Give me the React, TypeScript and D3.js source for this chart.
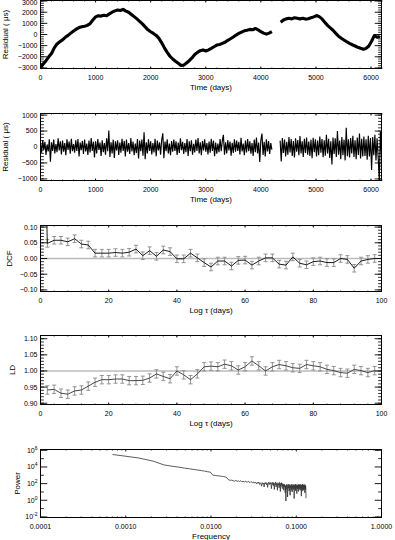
import React from 'react';
import * as d3 from 'd3';

const W = 395;
const H = 540;
const PL = 40.5;
const PR = 381.5;
const FONT = 'Liberation Sans, Arial, Helvetica, sans-serif';

// ---------- Panel 1: timing residuals (µs), sampled every 50 days ----------
const trendStep = 50;
const trendStart1 = 0;
const trendSeg1 = [
  -2950, -2650, -2350, -2000, -1700, -1200, -850, -650, -480, -250,
  -80, 120, 320, 480, 620, 700, 740, 820, 980, 1300,
  1580, 1680, 1650, 1720, 1680, 1850, 2000, 2120, 2200, 2150,
  2250, 2100, 2000, 1800, 1600, 1400, 1180, 950, 680, 420,
  250, 100, -80, -350, -750, -1200, -1600, -1950, -2200, -2400,
  -2580, -2780, -2750, -2550, -2350, -2100, -1800, -1600, -1450, -1380,
  -1480, -1380, -1250, -1100, -950, -900, -800, -700, -520, -380,
  -220, -50, 100, 220, 330, 380, 460, 420, 540, 420,
  250, 120, 30, 120, 260,
];
const trendStart2 = 4360;
const trendSeg2 = [
  1100, 1300, 1400, 1450, 1400, 1500, 1450, 1400, 1450, 1380,
  1420, 1500, 1580, 1700, 1600, 1400, 1100, 820, 600, 380,
  100, -150, -330, -500, -650, -800, -920, -1030, -1150, -1240,
  -1320, -1250, -1030, -600, -100, -250, -180,
];

// ---------- Panel 2: whitened residuals (µs), sampled every 20 days ----------
const resStep = 20;
const resStart1 = 0;
const resSeg1 = [
  120, -180, 210, -90, 160, -250, 80, -140, 240, -460,
  150, -120, 230, -200, 90, -160, 270, -110, 180, -230,
  200, -150, 120, -260, 240, -90, 170, -210, 260, -130,
  90, -180, 210, -120, 250, -300, 140, -100, 190, -220,
  230, -140, 110, -250, 200, -170, 280, -120, 160, -330,
  180, -200, 250, -90, 140, -280, 210, -160, 120, -240,
  270, -130, 520, -310, 150, -200, 230, -340, 180, -110,
  210, -250, 140, -180, 260, -120, 190, -300, 230, -150,
  120, -220, 280, -140, 170, -260, 110, -190, 250, -360,
  200, -130, 230, -270, 460, -380, 150, -200, 240, -120,
  180, -230, 120, -170, 260, -290, 200, -110, 150, -240,
  220, 430, -350, 170, -130, 240, -200, 110, -260, 190,
  -150, 230, -120, 180, -250, 140, -190, 270, -100, 160,
  -220, 120, -160, 250, -280, 180, -130, 210, -240, 100,
  -170, 230, -120, 280, -200, 150, -260, 190, -110, 240,
  -150, 120, -230, 170, -180, 260, -120, 200, -290, 140,
  -210, 110, -160, 250, -130, 190, 380, -240, 150, -200,
  220, -110, 170, -270, 130, -190, 240, -150, 200, -120,
  160, -230, 290, -140, 110, -260, 200, -170, 250, -130,
  180, -210, 120, -280, 230, -160, 300, -200, 140, -470,
  210, 420, -250, 160, -300, 240, -140, 190, -220, 120,
  -80,
];
const resStart2 = 4350;
const resSeg2 = [
  200, -450, 280, -190, 230, -300, 160, -240, 310, -170,
  250, -280, 190, -330, 270, -150, 220, -260, 340, -200,
  180, -310, 260, -190, 300, -240, 170, -280, 230, -350,
  290, -160, 240, -300, 200, -260, 330, -180, 250, -320,
  210, -270, 380, -200, 260, -340, 180, -550, 300, -220,
  270, -310, 500, -240, 200, -380, 310, -260, 230, -420,
  600, -290, 240, -330, 280, -200, 350, -310, 210, -380,
  300, -250, 420, -360, 260, -300, 330, -280, 240, -400,
  350, -300, 280, -720, 310, -260, 380, -420, 270, -340,
  -1050, 480, -280,
];

// ---------- Panel 3: DCF ----------
const dcfLag = [
  0, 2, 4, 6, 8, 10, 12, 14, 16, 18, 20, 22, 24, 26, 28, 30, 32, 34, 36, 38, 40, 42, 44, 46, 48,
  50, 52, 54, 56, 58, 60, 62, 64, 66, 68, 70, 72, 74, 76, 78, 80, 82, 84, 86, 88, 90, 92, 94, 96, 98,
];
const dcfVal = [
  1.0,
  0.048, 0.058, 0.058, 0.053, 0.063, 0.046, 0.043, 0.017, 0.017, 0.017,
  0.019, 0.017, 0.020, 0.030, 0.009, 0.025, 0.007, 0.027, 0.022, -0.001,
  -0.001, 0.017, 0.002, -0.013, -0.027, -0.008, -0.008, -0.024, -0.006, -0.005,
  -0.021, -0.008, 0.002, 0.002, -0.018, -0.021, 0.005, -0.015, -0.020, -0.010,
  -0.008, -0.013, -0.013, 0.0, -0.003, -0.031, -0.008, -0.003, 0.0,
];
const dcfErr = 0.012;

// ---------- Panel 4: LD ----------
const ldLag = [
  2, 4, 6, 8, 10, 12, 14, 16, 18, 20, 22, 24, 26, 28, 30, 32, 34, 36, 38, 40, 42, 44, 46, 48,
  50, 52, 54, 56, 58, 60, 62, 64, 66, 68, 70, 72, 74, 76, 78, 80, 82, 84, 86, 88, 90, 92, 94, 96, 98,
];
const ldVal = [
  0.941, 0.943, 0.931, 0.928, 0.938, 0.941, 0.953, 0.965, 0.973, 0.973,
  0.975, 0.975, 0.970, 0.970, 0.971, 0.978, 0.991, 0.983, 0.976, 1.000,
  0.988, 0.973, 0.991, 1.013, 1.015, 1.013, 1.021, 1.016, 1.003, 1.013,
  1.031, 1.016, 1.000, 1.013, 1.020, 1.016, 1.010, 1.008, 1.020, 1.016,
  1.013, 1.005, 1.001, 0.995, 0.993, 1.005, 1.001, 0.995, 1.001,
];
const ldErr = 0.013;

// ---------- Panel 5: power spectrum (log10 power at k * freqStep) ----------
const freqStep = 0.0007;
const logPower = [
  5.50, 5.09, 4.70, 4.25, 4.09, 3.98, 3.86, 3.78, 3.70, 3.63, 3.57, 3.50, 3.43, 3.38,
  3.02, 2.98, 2.95, 2.92, 2.88, 2.85, 2.80, 2.70, 2.45, 2.40, 2.42, 2.35, 2.30, 2.38, 2.28, 2.33,
  2.25, 2.36, 2.22, 2.30, 2.18, 2.28, 2.24, 2.15, 2.30, 2.20, 2.12, 2.25, 2.18, 2.10, 2.22, 2.05, 2.17, 2.12, 1.95, 2.15,
  2.05, 2.18, 1.90, 2.10, 2.00, 1.70, 2.12, 1.95, 2.05, 1.60, 2.10, 1.98, 2.15, 1.85, 2.05, 1.55, 2.08, 2.20, 1.90, 2.10,
  1.95, 2.15, 1.40, 2.05, 1.90, 2.18, 1.75, 2.10, 1.30, 2.00, 1.85, 2.20, 1.60, 2.05, 1.95, 1.20, 2.10, 1.80, 2.00, 1.50,
  2.15, 1.90, 1.05, 2.05, 1.70, 2.12, 1.85, 1.40, 2.00, 1.75,
  1.90, 1.20, 1.95, 1.60, 1.85, 0.90, 1.75, -0.10, 1.65, 1.90, 1.30, 1.80, 0.40, 1.70, 1.95,
  1.45, 1.80, 1.10, 1.70, 1.90, 0.60, 1.75, 1.50, 1.85, 1.20, 1.65, 1.95, 1.00, 1.70, 1.55,
  1.85, 1.30, 1.75, 1.90, 0.20, 1.60, 1.80, 1.40, 1.95, 1.15, 1.70, 1.85, 1.50, 1.75, 0.80,
  1.90, 1.60, 1.35, 1.80, 1.70, 1.05, 1.85, 1.55, 1.95, 1.30, 1.75, 1.60, 1.85, 1.20, 1.70,
  1.90, 1.45, 1.80, 0.50, 1.65, 1.85, 1.35, 1.75, 1.95, 1.10, 1.70, 1.60, 1.85, 1.25, 1.80,
  1.55, 1.90, 1.40, 1.75, 0.90, 1.65, 1.85, 1.30, 1.70, 1.50, 0.24,
];

// ---------- tick definitions ----------
const timeMajor = [0, 1000, 2000, 3000, 4000, 5000, 6000];
const lagMajor = [0, 20, 40, 60, 80, 100];
const freqMajor = [0.0001, 0.001, 0.01, 0.1, 1];
const res1Major = [-3000, -2000, -1000, 0, 1000, 2000, 3000];
const res2Major = [-1000, -500, 0, 500, 1000];
const dcfMajor = [-0.1, -0.05, 0, 0.05, 0.1];
const ldMajor = [0.9, 0.95, 1.0, 1.05, 1.1];
const powMajor = [-2, 0, 2, 4, 6];

type AxProps = {
  id: string;
  top: number;
  bottom: number;
  x: any;
  y: any;
  xMajor: number[];
  xMinor: number[];
  yMajor: number[];
  yMinor: number[];
  xFmt: (v: number) => string;
  yFmt?: (v: number) => string;
  yPow?: boolean;
  xTitle: React.ReactNode;
  yTitle: string;
  yTitleX: number;
  children?: React.ReactNode;
};

function Axes(p: AxProps) {
  const yMajLen = 6.8;
  const yMinLen = 3.4;
  const xMajLen = 2;
  const xMinLen = 1;
  const mid = (p.top + p.bottom) / 2;
  return (
    <g>
      <defs>
        <clipPath id={p.id}>
          <rect x={PL} y={p.top} width={PR - PL} height={p.bottom - p.top} />
        </clipPath>
      </defs>
      <g clipPath={`url(#${p.id})`}>{p.children}</g>
      <rect x={PL} y={p.top} width={PR - PL} height={p.bottom - p.top} fill="none" stroke="#000" strokeWidth={1} />
      {p.yMinor.map((v, i) => {
        const yy = p.y(v);
        return (
          <g key={'ym' + i} stroke="#000" strokeWidth={0.8}>
            <line x1={PL} x2={PL + yMinLen} y1={yy} y2={yy} />
            <line x1={PR} x2={PR - yMinLen} y1={yy} y2={yy} />
          </g>
        );
      })}
      {p.yMajor.map((v, i) => {
        const yy = p.y(v);
        return (
          <g key={'yM' + i}>
            <line x1={PL} x2={PL + yMajLen} y1={yy} y2={yy} stroke="#000" strokeWidth={0.9} />
            <line x1={PR} x2={PR - yMajLen} y1={yy} y2={yy} stroke="#000" strokeWidth={0.9} />
            <text x={37.5} y={Math.max(yy, 2.6)} dy="0.35em" textAnchor="end" fontSize={7} fontFamily={FONT}>
              {p.yPow ? (
                <>
                  <tspan>10</tspan>
                  <tspan dy={-3} fontSize={5}>{v}</tspan>
                </>
              ) : (
                p.yFmt!(v)
              )}
            </text>
          </g>
        );
      })}
      {p.xMinor.map((v, i) => {
        const xx = p.x(v);
        return (
          <g key={'xm' + i} stroke="#000" strokeWidth={0.8}>
            <line x1={xx} x2={xx} y1={p.bottom} y2={p.bottom - xMinLen} />
            <line x1={xx} x2={xx} y1={p.top} y2={p.top + xMinLen} />
          </g>
        );
      })}
      {p.xMajor.map((v, i) => {
        const xx = p.x(v);
        return (
          <g key={'xM' + i}>
            <line x1={xx} x2={xx} y1={p.bottom} y2={p.bottom - xMajLen} stroke="#000" strokeWidth={0.9} />
            <line x1={xx} x2={xx} y1={p.top} y2={p.top + xMajLen} stroke="#000" strokeWidth={0.9} />
            <text x={xx} y={p.bottom + 11.5} textAnchor="middle" fontSize={7} fontFamily={FONT}>
              {p.xFmt(v)}
            </text>
          </g>
        );
      })}
      <text x={(PL + PR) / 2} y={p.bottom + 21} textAnchor="middle" fontSize={8} fontFamily={FONT}>
        {p.xTitle}
      </text>
      <text
        transform={`translate(${p.yTitleX},${mid}) rotate(-90)`}
        dy="0.35em"
        textAnchor="middle"
        fontSize={8}
        fontFamily={FONT}
      >
        {p.yTitle}
      </text>
    </g>
  );
}

const minus = (s: string) => s.replace('-', '\u2212');

function rangeStep(a: number, b: number, s: number) {
  return d3.range(Math.round(a / s), Math.round(b / s) + 1).map((k) => +(k * s).toFixed(6));
}

export default function App() {
  // Panel 1
  const p1 = { top: 0.5, bottom: 68.5 };
  const x1 = d3.scaleLinear().domain([0, 6190]).range([PL, PR]);
  const y1 = d3.scaleLinear().domain([-3050, 3050]).range([p1.bottom, p1.top]);
  const seg1 = trendSeg1.map((v, i) => [trendStart1 + i * trendStep, v]);
  const seg2 = trendSeg2.map((v, i) => [trendStart2 + i * trendStep, v]);
  const line1 = d3.line<number[]>().x((d) => x1(d[0])).y((d) => y1(d[1]));

  // Panel 2
  const p2 = { top: 113.5, bottom: 180.5 };
  const y2 = d3.scaleLinear().domain([-1050, 1050]).range([p2.bottom, p2.top]);
  const r1 = resSeg1.map((v, i) => [resStart1 + i * resStep, v]);
  const r2 = resSeg2.map((v, i) => [resStart2 + i * resStep, v]);
  const line2 = d3.line<number[]>().x((d) => x1(d[0])).y((d) => y2(d[1]));

  // Panel 3
  const p3 = { top: 225.5, bottom: 291.5 };
  const x3 = d3.scaleLinear().domain([0, 100]).range([PL, PR]);
  const y3 = d3.scaleLinear().domain([-0.105, 0.105]).range([p3.bottom, p3.top]);
  const dcfPts = dcfLag.map((l, i) => [l, dcfVal[i]]);
  const line3 = d3.line<number[]>().x((d) => x3(d[0])).y((d) => y3(d[1]));

  // Panel 4
  const p4 = { top: 335.5, bottom: 404.5 };
  const y4 = d3.scaleLinear().domain([0.896, 1.11]).range([p4.bottom, p4.top]);
  const ldPts = ldLag.map((l, i) => [l, ldVal[i]]);
  const line4 = d3.line<number[]>().x((d) => x3(d[0])).y((d) => y4(d[1]));

  // Panel 5
  const p5 = { top: 449.5, bottom: 517.5 };
  const x5 = d3.scaleLog().domain([0.0001, 1]).range([PL, PR]);
  const y5 = d3.scaleLinear().domain([-2.07, 6.1]).range([p5.bottom, p5.top]);
  const powPts = logPower.map((v, i) => [(i + 1) * freqStep, v]);
  const line5 = d3.line<number[]>().x((d) => x5(d[0])).y((d) => y5(d[1]));
  const freqMinor: number[] = [];
  [0.0001, 0.001, 0.01, 0.1].forEach((dec) => {
    for (let k = 2; k <= 9; k++) freqMinor.push(dec * k);
  });

  const fmtInt = (v: number) => minus(d3.format('d')(v));
  const fmt2 = (v: number) => minus(d3.format('.2f')(v));
  const cap = 2;

  return (
    <svg
      width={W}
      height={H}
      viewBox={`0 0 ${W} ${H}`}
      style={{ position: 'absolute', left: 0, top: 0, display: 'block', background: '#fff' }}
    >
      <rect x={0} y={0} width={W} height={H} fill="#fff" />

      <Axes
        id="c1"
        top={p1.top}
        bottom={p1.bottom}
        x={x1}
        y={y1}
        xMajor={timeMajor}
        xMinor={rangeStep(0, 6190, 200)}
        yMajor={res1Major}
        yMinor={rangeStep(-3000, 3000, 200)}
        xFmt={fmtInt}
        yFmt={fmtInt}
        xTitle="Time (days)"
        yTitle="Residual ( μs)"
        yTitleX={5.5}
      >
        <path d={line1(seg1)!} fill="none" stroke="#000" strokeWidth={3.1} strokeLinejoin="round" />
        <path d={line1(seg2)!} fill="none" stroke="#000" strokeWidth={3.1} strokeLinejoin="round" />
      </Axes>

      <Axes
        id="c2"
        top={p2.top}
        bottom={p2.bottom}
        x={x1}
        y={y2}
        xMajor={timeMajor}
        xMinor={rangeStep(0, 6190, 200)}
        yMajor={res2Major}
        yMinor={rangeStep(-1000, 1000, 100)}
        xFmt={fmtInt}
        yFmt={fmtInt}
        xTitle="Time (days)"
        yTitle="Residual ( μs)"
        yTitleX={5.5}
      >
        <path d={line2(r1)!} fill="none" stroke="#000" strokeWidth={1.15} />
        <path d={line2(r2)!} fill="none" stroke="#000" strokeWidth={1.15} />
      </Axes>

      <Axes
        id="c3"
        top={p3.top}
        bottom={p3.bottom}
        x={x3}
        y={y3}
        xMajor={lagMajor}
        xMinor={rangeStep(0, 100, 4)}
        yMajor={dcfMajor}
        yMinor={rangeStep(-0.1, 0.1, 0.01)}
        xFmt={fmtInt}
        yFmt={fmt2}
        xTitle="Log τ (days)"
        yTitle="DCF"
        yTitleX={9}
      >
        <line x1={PL} x2={PR} y1={y3(0)} y2={y3(0)} stroke="#bbb" strokeWidth={1.6} />
        {dcfPts
          .filter((d) => d[0] > 0)
          .map((d, i) => (
            <g key={i} stroke="#888" strokeWidth={0.9}>
              <line x1={x3(d[0])} x2={x3(d[0])} y1={y3(d[1] - dcfErr)} y2={y3(d[1] + dcfErr)} />
              <line x1={x3(d[0]) - cap} x2={x3(d[0]) + cap} y1={y3(d[1] - dcfErr)} y2={y3(d[1] - dcfErr)} />
              <line x1={x3(d[0]) - cap} x2={x3(d[0]) + cap} y1={y3(d[1] + dcfErr)} y2={y3(d[1] + dcfErr)} />
            </g>
          ))}
        <path d={line3(dcfPts)!} fill="none" stroke="#000" strokeWidth={0.9} />
      </Axes>

      <Axes
        id="c4"
        top={p4.top}
        bottom={p4.bottom}
        x={x3}
        y={y4}
        xMajor={lagMajor}
        xMinor={rangeStep(0, 100, 4)}
        yMajor={ldMajor}
        yMinor={rangeStep(0.9, 1.1, 0.01)}
        xFmt={fmtInt}
        yFmt={fmt2}
        xTitle="Log τ (days)"
        yTitle="LD"
        yTitleX={12}
      >
        <line x1={PL} x2={PR} y1={y4(1)} y2={y4(1)} stroke="#bbb" strokeWidth={1.6} />
        {ldPts.map((d, i) => (
          <g key={i} stroke="#888" strokeWidth={0.9}>
            <line x1={x3(d[0])} x2={x3(d[0])} y1={y4(d[1] - ldErr)} y2={y4(d[1] + ldErr)} />
            <line x1={x3(d[0]) - cap} x2={x3(d[0]) + cap} y1={y4(d[1] - ldErr)} y2={y4(d[1] - ldErr)} />
            <line x1={x3(d[0]) - cap} x2={x3(d[0]) + cap} y1={y4(d[1] + ldErr)} y2={y4(d[1] + ldErr)} />
          </g>
        ))}
        <path d={line4(ldPts)!} fill="none" stroke="#333" strokeWidth={0.9} />
      </Axes>

      <Axes
        id="c5"
        top={p5.top}
        bottom={p5.bottom}
        x={x5}
        y={y5}
        xMajor={freqMajor}
        xMinor={freqMinor}
        yMajor={powMajor}
        yMinor={[-1, 1, 3, 5]}
        xFmt={(v) => d3.format('.4f')(v)}
        yPow
        xTitle="Frequency"
        yTitle="Power"
        yTitleX={17}
      >
        <path d={line5(powPts)!} fill="none" stroke="#333" strokeWidth={0.8} />
      </Axes>
    </svg>
  );
}
